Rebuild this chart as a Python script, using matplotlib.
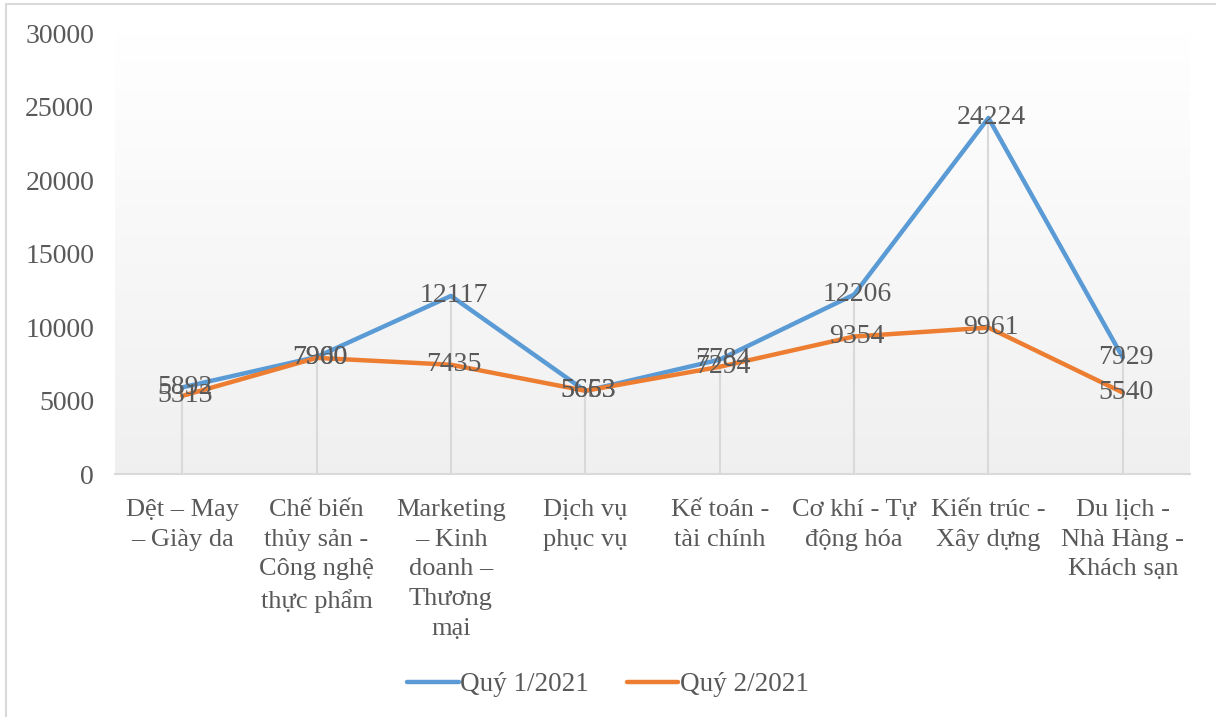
import matplotlib
matplotlib.use("Agg")
import matplotlib.pyplot as plt
import numpy as np
from matplotlib.patches import Rectangle

categories = ["Dệt – May\n– Giày da", "Chế biến\nthủy sản -\nCông nghệ\nthực phẩm",
              "Marketing\n– Kinh\ndoanh –\nThương\nmại", "Dịch vụ\nphục vụ",
              "Kế toán -\ntài chính", "Cơ khí - Tự\nđộng hóa", "Kiến trúc -\nXây dựng",
              "Du lịch -\nNhà Hàng -\nKhách sạn"]
q1 = [5892, 7960, 12117, 5653, 7784, 12206, 24224, 7929]
q2 = [5313, 7900, 7435, 5663, 7294, 9354, 9961, 5540]
series_names = ["Quý 1/2021", "Quý 2/2021"]
yticks = [0, 5000, 10000, 15000, 20000, 25000, 30000]

plt.rcParams['font.family'] = ['Liberation Serif', 'DejaVu Serif']
txt = "#595959"

fig = plt.figure(figsize=(12.16, 7.17), dpi=100)
fig.patch.set_facecolor("white")
ax = fig.add_axes([0.0946, 0.3389, 0.884, 0.615])

x = np.arange(len(categories))
ax.set_xlim(-0.5, len(categories) - 0.5)
ax.set_ylim(0, 30000)

# gradient background
grad = np.linspace(1.0, 0.94, 256).reshape(-1, 1)
ax.imshow(np.dstack([grad, grad, grad]), extent=[-0.5, len(categories) - 0.5, 0, 30000],
          aspect='auto', origin='upper', zorder=0)

# drop lines
tops = [max(a, b) for a, b in zip(q1, q2)]
ax.vlines(x, 0, tops, color="#d9d9d9", lw=1.5, zorder=1)

ax.plot(x, q1, color="#5B9BD5", lw=3.2, label=series_names[0], zorder=3,
        solid_capstyle='round', solid_joinstyle='round')
ax.plot(x, q2, color="#ED7D31", lw=3.2, label=series_names[1], zorder=3,
        solid_capstyle='round', solid_joinstyle='round')

for xi, v in zip(x, q1):
    ax.annotate(str(v), (xi, v), xytext=(2, 0), textcoords='offset points',
                ha='center', va='center', fontsize=20, color=txt, zorder=4)
for xi, v in zip(x, q2):
    ax.annotate(str(v), (xi, v), xytext=(2, 0), textcoords='offset points',
                ha='center', va='center', fontsize=20, color=txt, zorder=4)

ax.set_yticks(yticks)
ax.set_yticklabels([str(t) for t in yticks], fontsize=20, color=txt)
ax.set_xticks(x)
ax.set_xticklabels(categories, fontsize=19, color=txt, linespacing=1.45, va='top')
ax.tick_params(axis='both', length=0)
ax.tick_params(axis='y', pad=15)
ax.tick_params(axis='x', pad=18)
for s in ["top", "right", "left"]:
    ax.spines[s].set_visible(False)
ax.spines["bottom"].set_color("#d9d9d9")
ax.spines["bottom"].set_linewidth(1.5)

leg = fig.legend(loc='center', bbox_to_anchor=(0.5, 0.045), ncol=2, frameon=False,
                 fontsize=19.5, handlelength=1.9, handletextpad=0.05, columnspacing=1.4)
for t in leg.get_texts():
    t.set_color(txt)

fig.add_artist(Rectangle((0.005, -0.01), 1.0, 1.004, transform=fig.transFigure,
                         fill=False, edgecolor="#d9d9d9", lw=1.5))

fig.savefig("out.png", dpi=100)
